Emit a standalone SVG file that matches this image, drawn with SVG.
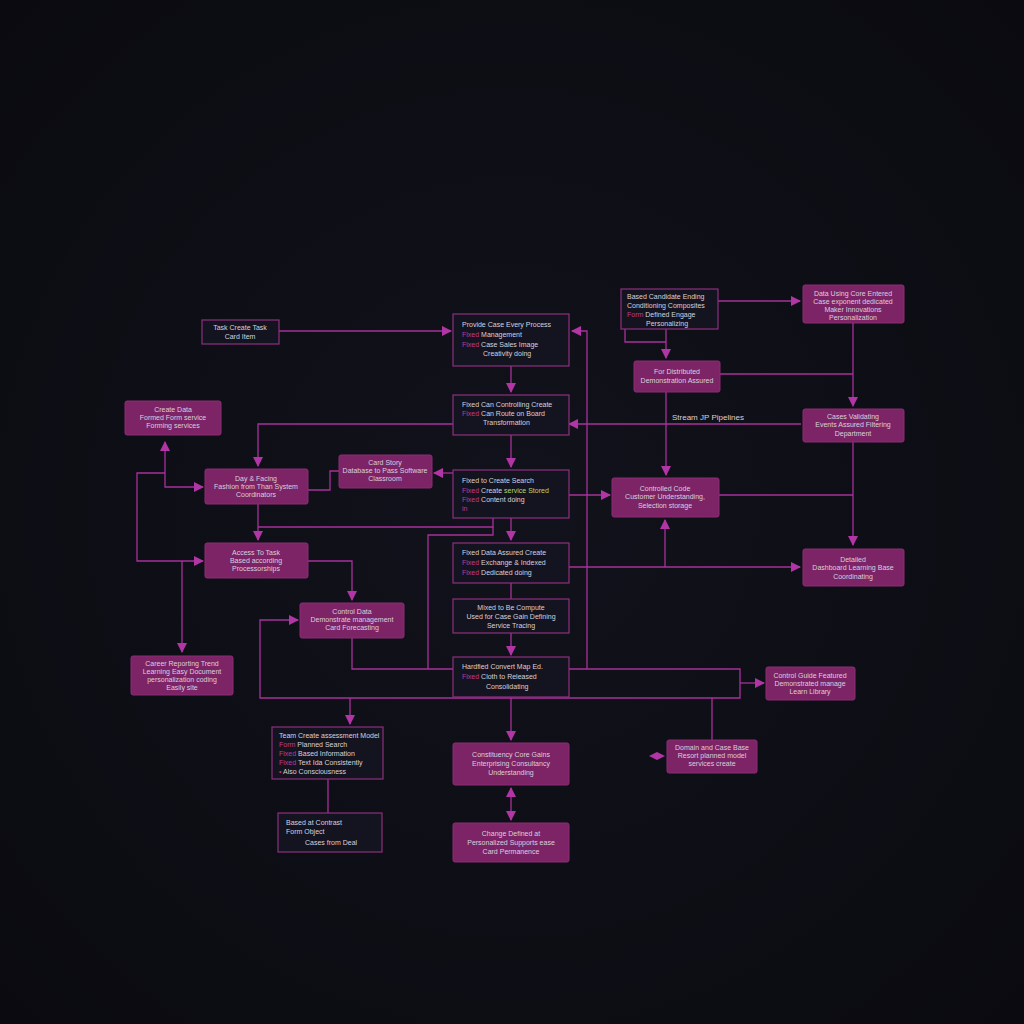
<svg xmlns="http://www.w3.org/2000/svg" width="1024" height="1024" viewBox="0 0 1024 1024">
<style>
.d{fill:#141420;stroke:#8e2f7e;stroke-width:1.2}
.f{fill:#7d2467;stroke:#8a2c74;stroke-width:1}
text{font-family:"Liberation Sans",Arial,sans-serif;font-size:7px;fill:#d8d0dc}
.c text{text-anchor:middle}
.k{fill:#c0398e}
.e{fill:none;stroke:#a8309a;stroke-width:1.3}
</style>
<defs>
<marker id="a" viewBox="0 0 10 10" refX="9" refY="5" markerWidth="8" markerHeight="8" orient="auto-start-reverse"><path d="M0,0L10,5L0,10z" fill="#b235a6"/></marker>
<radialGradient id="bg" cx="50%" cy="50%" r="70%"><stop offset="0" stop-color="#12121c"/><stop offset="1" stop-color="#0a0a10"/></radialGradient>
</defs>
<rect width="1024" height="1024" fill="url(#bg)"/>
<g id="connectors" class="e">
<path d="M279,331H451" marker-end="url(#a)"/>
<path d="M511,366V392" marker-end="url(#a)"/>
<path d="M511,435V467" marker-end="url(#a)"/>
<path d="M453,424H258V466" marker-end="url(#a)"/>
<path d="M453,473H434" marker-end="url(#a)"/>
<path d="M339,471H330V490H308"/>
<path d="M165,442V487H203" marker-start="url(#a)" marker-end="url(#a)"/>
<path d="M165,473H137V561H203" marker-end="url(#a)"/>
<path d="M258,504V540" marker-end="url(#a)"/>
<path d="M493,518V527H258"/>
<path d="M511,518V540" marker-end="url(#a)"/>
<path d="M493,527V535H428V669"/>
<path d="M308,561H352V600" marker-end="url(#a)"/>
<path d="M182,561V652" marker-end="url(#a)"/>
<path d="M511,583V599"/>
<path d="M511,633V655" marker-end="url(#a)"/>
<path d="M352,638V669H740V698H260V620H298" marker-end="url(#a)"/>
<path d="M740,683H764" marker-end="url(#a)"/>
<path d="M350,698V724" marker-end="url(#a)"/>
<path d="M511,698V740" marker-end="url(#a)"/>
<path d="M712,698V740"/>
<path d="M328,779V813"/>
<path d="M511,788V820" marker-start="url(#a)" marker-end="url(#a)"/>
<path d="M587,669V331H572" marker-end="url(#a)"/>
<path d="M569,424H801" marker-start="url(#a)"/>
<path d="M569,495H610" marker-end="url(#a)"/>
<path d="M569,567H800" marker-end="url(#a)"/>
<path d="M665,567V520" marker-end="url(#a)"/>
<path d="M718,301H800" marker-end="url(#a)"/>
<path d="M666,329V358" marker-end="url(#a)"/>
<path d="M625,329V342H666"/>
<path d="M666,392V475" marker-end="url(#a)"/>
<path d="M720,374H853"/>
<path d="M853,323V406" marker-end="url(#a)"/>
<path d="M853,442V545" marker-end="url(#a)"/>
<path d="M719,495H853"/>
<path d="M649,756l8,-4l8,4l-8,4z" fill="#b235a6" stroke="none"/>
</g>
<text x="672" y="420" style="font-size:8px">Stream JP Pipelines</text>
<g id="n1" class="c"><rect class="d" x="202" y="320" width="77" height="24"/><text x="240" y="330">Task Create Task</text><text x="240" y="339">Card Item</text></g>
<g id="n2"><rect class="d" x="453" y="314" width="116" height="52"/><text x="462" y="327">Provide Case Every Process</text><text x="462" y="337"><tspan class="k">Fixed</tspan> Management</text><text x="462" y="347"><tspan class="k">Fixed</tspan> Case Sales Image</text><text x="483" y="356">Creativity doing</text></g>
<g id="n3"><rect class="d" x="453" y="395" width="116" height="40"/><text x="462" y="407">Fixed Can Controlling Create</text><text x="462" y="416"><tspan class="k">Fixed</tspan> Can Route on Board</text><text x="483" y="425">Transformation</text></g>
<g id="n4"><rect class="d" x="453" y="470" width="116" height="48"/><text x="462" y="483">Fixed to Create Search</text><text x="462" y="493"><tspan class="k">Fixed</tspan> Create <tspan fill="#b8d86a">service Stored</tspan></text><text x="462" y="502"><tspan class="k">Fixed</tspan> Content doing</text><text x="462" y="511" class="k">in</text></g>
<g id="n5"><rect class="d" x="453" y="543" width="116" height="40"/><text x="462" y="555">Fixed Data Assured Create</text><text x="462" y="565"><tspan class="k">Fixed</tspan> Exchange &amp; Indexed</text><text x="462" y="575"><tspan class="k">Fixed</tspan> Dedicated doing</text></g>
<g id="n6" class="c"><rect class="d" x="453" y="599" width="116" height="34"/><text x="511" y="610">Mixed to Be Compute</text><text x="511" y="619">Used for Case Gain Defining</text><text x="511" y="628">Service Tracing</text></g>
<g id="n7"><rect class="d" x="453" y="657" width="116" height="40"/><text x="462" y="669">Hardfied Convert Map Ed.</text><text x="462" y="679"><tspan class="k">Fixed</tspan> Cloth to Released</text><text x="486" y="689">Consolidating</text></g>
<g id="n8" class="c"><rect class="f" x="125" y="401" width="96" height="34" rx="2"/><text x="173" y="412">Create Data</text><text x="173" y="420">Formed Form service</text><text x="173" y="428">Forming services</text></g>
<g id="n9" class="c"><rect class="f" x="205" y="469" width="103" height="35" rx="2"/><text x="256" y="481">Day &amp; Facing</text><text x="256" y="489">Fashion from Than System</text><text x="256" y="497">Coordinators</text></g>
<g id="n10" class="c"><rect class="f" x="339" y="455" width="93" height="33" rx="2"/><text x="385" y="465">Card Story</text><text x="385" y="473">Database to Pass Software</text><text x="385" y="481">Classroom</text></g>
<g id="n11" class="c"><rect class="f" x="205" y="543" width="103" height="35" rx="2"/><text x="256" y="555">Access To Task</text><text x="256" y="563">Based according</text><text x="256" y="571">Processorships</text></g>
<g id="n12" class="c"><rect class="f" x="300" y="603" width="104" height="35" rx="2"/><text x="352" y="614">Control Data</text><text x="352" y="622">Demonstrate management</text><text x="352" y="630">Card Forecasting</text></g>
<g id="n13" class="c"><rect class="f" x="131" y="656" width="102" height="39" rx="2"/><text x="182" y="666">Career Reporting Trend</text><text x="182" y="674">Learning Easy Document</text><text x="182" y="682">personalization coding</text><text x="182" y="690">Easily site</text></g>
<g id="n14"><rect class="d" x="272" y="727" width="111" height="52"/><text x="279" y="738">Team Create assessment Model</text><text x="279" y="747"><tspan class="k">Form</tspan> Planned Search</text><text x="279" y="756"><tspan class="k">Fixed</tspan> Based Information</text><text x="279" y="765"><tspan class="k">Fixed</tspan> Text Ida Consistently</text><text x="279" y="774"><tspan class="k">•</tspan>     Also Consciousness</text></g>
<g id="n15"><rect class="d" x="278" y="813" width="104" height="39"/><text x="286" y="825">Based at Contrast</text><text x="286" y="834">Form Object</text><text x="305" y="845">Cases from Deal</text></g>
<g id="n16" class="c"><rect class="f" x="453" y="743" width="116" height="42" rx="2"/><text x="511" y="757">Constituency Core Gains</text><text x="511" y="766">Enterprising Consultancy</text><text x="511" y="775">Understanding</text></g>
<g id="n17" class="c"><rect class="f" x="453" y="823" width="116" height="39" rx="2"/><text x="511" y="836">Change Defined at</text><text x="511" y="845">Personalized Supports ease</text><text x="511" y="854">Card Permanence</text></g>
<g id="n18"><rect class="d" x="621" y="289" width="97" height="40"/><text x="627" y="299">Based Candidate Ending</text><text x="627" y="308">Conditioning Composites</text><text x="627" y="317"><tspan class="k">Form</tspan>  Defined Engage</text><text x="646" y="326">Personalizing</text></g>
<g id="n19" class="c"><rect class="f" x="803" y="285" width="101" height="38" rx="2"/><text x="853" y="296">Data Using Core Entered</text><text x="853" y="304">Case exponent dedicated</text><text x="853" y="312">Maker Innovations</text><text x="853" y="320">Personalization</text></g>
<g id="n20" class="c"><rect class="f" x="634" y="361" width="86" height="31" rx="2"/><text x="677" y="374">For Distributed</text><text x="677" y="383">Demonstration Assured</text></g>
<g id="n21" class="c"><rect class="f" x="803" y="409" width="101" height="33" rx="2"/><text x="853" y="419">Cases Validating</text><text x="853" y="427">Events Assured Filtering</text><text x="853" y="436">Department</text></g>
<g id="n22" class="c"><rect class="f" x="612" y="478" width="107" height="39" rx="2"/><text x="665" y="491">Controlled Code</text><text x="665" y="499">Customer Understanding,</text><text x="665" y="508">Selection storage</text></g>
<g id="n23" class="c"><rect class="f" x="803" y="549" width="101" height="37" rx="2"/><text x="853" y="562">Detailed</text><text x="853" y="570">Dashboard Learning Base</text><text x="853" y="579">Coordinating</text></g>
<g id="n24" class="c"><rect class="f" x="766" y="667" width="89" height="33" rx="2"/><text x="810" y="678">Control Guide Featured</text><text x="810" y="686">Demonstrated manage</text><text x="810" y="694">Learn Library</text></g>
<g id="n25" class="c"><rect class="f" x="667" y="740" width="90" height="33" rx="2"/><text x="712" y="750">Domain and Case Base</text><text x="712" y="758">Resort planned model</text><text x="712" y="766">services create</text></g>
</svg>
